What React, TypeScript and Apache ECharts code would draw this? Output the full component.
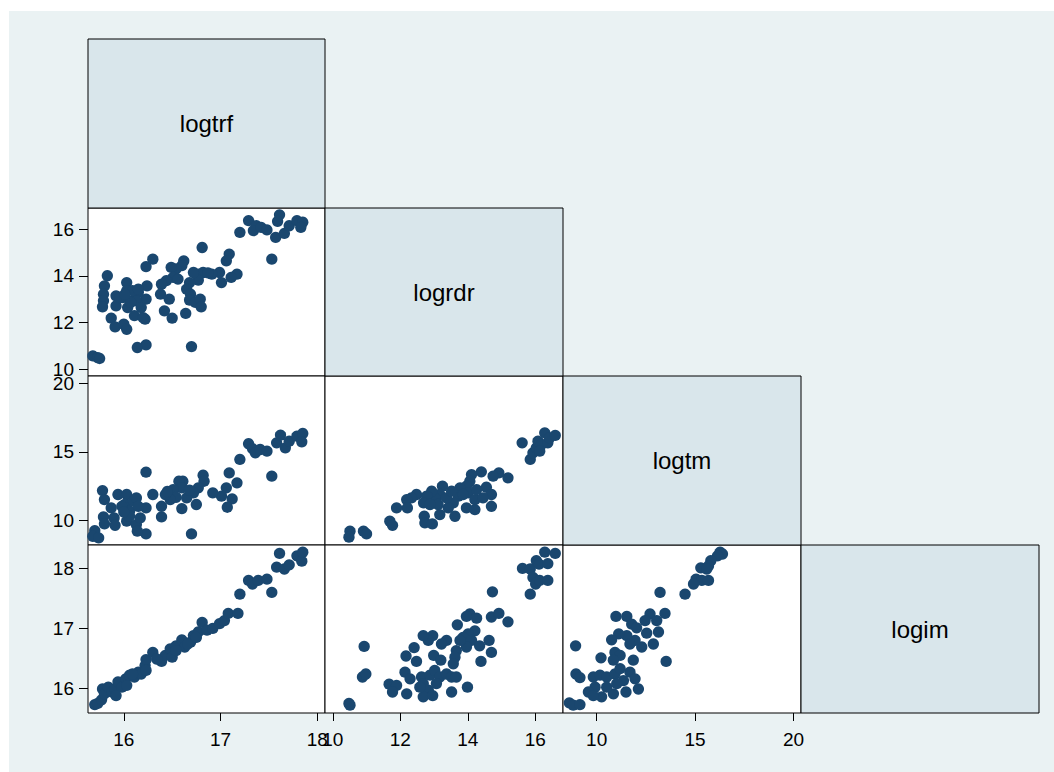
import React, { useEffect, useRef } from "react";
import * as echarts from "echarts";

// Variable names on the diagonal
const vars = ["logtrf", "logrdr", "logtm", "logim"];

// Axis extents: columns are logtrf, logrdr, logtm; rows are logrdr, logtm, logim
const colRanges = [
  [15.63, 18.08],
  [9.77, 16.82],
  [8.29, 20.38],
];
const rowRanges = [
  [9.71, 16.9],
  [8.19, 20.54],
  [15.59, 18.39],
];
const colTicks = [
  [16, 17, 18],
  [10, 12, 14, 16],
  [10, 15, 20],
];
const rowTicks = [
  [10, 12, 14, 16],
  [10, 15, 20],
  [16, 17, 18],
];

// logtrf (x) vs logrdr (y)
const trfRdr = [
  [17.2, 15.86], [17.29, 16.36], [17.37, 16.14], [17.34, 15.93], [17.42, 16.07],
  [17.48, 15.96], [17.61, 16.61], [17.59, 16.33], [17.57, 15.64], [17.66, 15.81],
  [17.71, 16.14], [17.79, 16.36], [17.85, 16.29], [17.83, 16.07], [17.53, 14.71],
  [16.81, 15.21], [17.09, 14.93], [17.06, 14.64], [17.17, 14.07], [17.11, 13.93],
  [17.01, 13.71], [16.99, 14.14], [16.91, 14.07], [16.82, 14.14], [16.77, 14.07],
  [16.77, 13.81], [16.72, 14.14], [16.62, 14.64], [16.6, 14.43], [16.54, 14.29],
  [16.49, 14.36], [16.51, 13.93], [16.44, 13.79], [16.39, 13.64], [16.38, 13.21],
  [16.47, 13.0], [16.68, 13.71], [16.65, 13.43], [16.69, 13.21], [16.68, 12.96],
  [16.74, 12.86], [16.79, 13.0], [16.8, 12.67], [16.64, 12.39], [16.42, 12.5],
  [16.5, 12.19], [16.7, 10.97], [16.23, 14.39], [16.3, 14.71], [16.24, 13.57],
  [16.23, 13.0], [16.22, 12.14], [16.23, 11.04], [16.14, 10.93], [15.83, 14.0],
  [15.8, 13.57], [15.79, 13.21], [15.79, 12.93], [15.78, 12.67], [15.92, 13.14],
  [15.92, 12.71], [15.87, 12.19], [15.91, 11.81], [16.0, 11.93], [16.03, 11.71],
  [16.03, 13.71], [16.03, 13.36], [15.99, 13.07], [16.04, 12.64], [16.09, 12.93],
  [16.15, 13.29], [16.13, 12.93], [16.11, 12.29], [16.18, 12.64], [16.2, 12.21],
  [16.07, 12.86], [16.09, 13.36], [15.96, 13.07], [15.68, 10.57], [15.73, 10.5],
  [15.75, 10.46], [16.15, 13.43], [16.87, 14.12], [16.56, 13.86], [16.01, 13.2],
];

// logtrf (x) vs logtm (y)
const trfTm = [
  [17.2, 14.44], [17.29, 15.59], [17.33, 15.24], [17.36, 14.93], [17.41, 15.17],
  [17.48, 15.05], [17.58, 15.66], [17.62, 16.22], [17.67, 15.29], [17.71, 15.78],
  [17.79, 16.15], [17.85, 16.34], [17.84, 15.73], [17.53, 13.22], [17.09, 13.46],
  [17.17, 12.73], [17.06, 12.37], [17.12, 11.56], [17.07, 10.95], [17.01, 11.76],
  [16.92, 12.0], [16.82, 13.29], [16.83, 12.85], [16.77, 12.37], [16.72, 12.0],
  [16.75, 11.15], [16.61, 12.85], [16.57, 12.85], [16.6, 12.37], [16.65, 11.63],
  [16.51, 12.24], [16.54, 11.68], [16.6, 10.85], [16.48, 11.51], [16.43, 11.88],
  [16.39, 11.02], [16.39, 10.24], [16.7, 9.0], [16.23, 13.51], [16.3, 11.88],
  [16.23, 10.9], [16.23, 9.0], [15.78, 12.17], [15.8, 11.51], [15.79, 10.24],
  [15.8, 9.73], [15.7, 9.24], [15.68, 8.83], [15.74, 8.71], [15.87, 10.9],
  [15.9, 10.17], [15.91, 9.63], [15.94, 11.88], [16.03, 11.88], [16.01, 11.15],
  [16.03, 9.93], [16.06, 10.66], [16.1, 11.39], [16.13, 11.63], [16.15, 11.02],
  [16.13, 9.68], [16.14, 9.2], [16.17, 10.17], [15.98, 11.02], [16.06, 10.29],
  [16.68, 12.2], [16.45, 12.1], [16.0, 10.6],
];

// logtrf (x) vs logim (y)
const trfIm = [
  [15.7, 15.73], [15.73, 15.75], [15.77, 15.81], [15.78, 15.99], [15.8, 15.91],
  [15.84, 16.02], [15.88, 15.94], [15.91, 15.99], [15.94, 16.11], [15.98, 16.02],
  [16.02, 16.16], [16.03, 16.05], [16.06, 16.22], [16.11, 16.19], [16.15, 16.27],
  [16.18, 16.24], [16.22, 16.38], [16.23, 16.48], [16.23, 16.3], [16.3, 16.6],
  [16.39, 16.45], [16.43, 16.55], [16.48, 16.66], [16.5, 16.52], [16.54, 16.71],
  [16.6, 16.81], [16.63, 16.69], [16.69, 16.77], [16.72, 16.88], [16.77, 16.94],
  [16.81, 17.1], [16.86, 16.97], [16.92, 17.0], [16.99, 17.08], [17.04, 17.13],
  [17.08, 17.25], [17.18, 17.25], [17.2, 17.57], [17.29, 17.8], [17.33, 17.74],
  [17.39, 17.8], [17.48, 17.82], [17.53, 17.6], [17.58, 18.02], [17.61, 18.25],
  [17.66, 17.99], [17.71, 18.06], [17.79, 18.21], [17.84, 18.12], [17.85, 18.27],
  [16.54, 16.63], [16.66, 16.74], [16.75, 16.85], [16.34, 16.49], [16.09, 16.24],
  [15.92, 15.88],
];

// logrdr (x) vs logtm (y)
const rdrTm = [
  [15.61, 15.66], [15.85, 14.44], [15.93, 14.93], [16.03, 15.29], [16.08, 15.78],
  [16.18, 15.54], [16.28, 16.39], [16.37, 15.66], [16.42, 16.02], [16.59, 16.2],
  [16.13, 15.05], [15.19, 13.1], [14.92, 13.46], [14.75, 13.22], [14.4, 13.54],
  [14.11, 13.34], [14.06, 12.85], [13.96, 12.49], [14.01, 12.0], [14.21, 11.51],
  [13.96, 10.9], [14.21, 10.78], [14.55, 12.41], [14.7, 11.88], [14.7, 11.02],
  [14.45, 11.63], [14.26, 12.24], [13.77, 12.37], [13.72, 11.76], [13.57, 11.27],
  [13.62, 10.29], [13.42, 10.9], [13.25, 12.49], [13.17, 11.88], [13.02, 11.63],
  [13.12, 11.15], [13.17, 10.41], [12.93, 12.12], [12.78, 11.76], [12.69, 11.27],
  [12.88, 11.15], [12.71, 10.29], [12.73, 9.8], [12.95, 9.73], [12.48, 11.88],
  [12.33, 11.63], [12.19, 11.51], [12.21, 10.9], [11.89, 10.9], [11.69, 9.93],
  [11.77, 9.63], [10.91, 9.2], [11.0, 9.0], [10.51, 9.2], [10.48, 8.76],
  [13.37, 11.63], [13.52, 12.12], [13.86, 11.88],
];

// logrdr (x) vs logim (y)
const rdrIm = [
  [15.62, 18.0], [15.85, 17.99], [16.03, 18.13], [16.11, 18.07], [16.28, 18.27],
  [16.37, 18.08], [16.59, 18.25], [15.93, 17.85], [16.01, 17.74], [16.13, 17.8],
  [16.37, 17.8], [15.85, 17.57], [14.73, 17.61], [14.7, 17.19], [14.92, 17.25],
  [15.19, 17.11], [14.06, 17.24], [13.96, 17.2], [14.26, 17.17], [13.69, 17.06],
  [14.21, 16.96], [14.01, 16.91], [13.86, 16.85], [14.11, 16.8], [14.35, 16.71],
  [14.63, 16.8], [14.7, 16.6], [14.39, 16.45], [13.96, 16.69], [13.77, 16.8],
  [13.66, 16.63], [13.62, 16.52], [13.57, 16.41], [13.37, 16.8], [13.22, 16.74],
  [12.96, 16.88], [12.83, 16.8], [12.68, 16.88], [12.41, 16.68], [12.17, 16.54],
  [12.48, 16.45], [12.99, 16.55], [13.2, 16.47], [12.14, 16.27], [12.29, 16.16],
  [12.63, 16.19], [12.68, 16.08], [12.88, 16.22], [13.02, 16.3], [13.17, 16.19],
  [13.37, 16.24], [13.52, 16.19], [13.66, 16.19], [13.07, 16.08], [12.83, 15.97],
  [12.68, 15.86], [12.96, 15.88], [13.52, 15.94], [13.99, 16.02], [12.19, 15.91],
  [11.67, 16.07], [11.89, 16.05], [11.77, 15.94], [10.93, 16.7], [10.88, 16.19],
  [10.98, 16.24], [10.48, 15.75], [10.51, 15.72], [12.58, 16.02],
];

// logtm (x) vs logim (y)
const tmIm = [
  [16.27, 18.27], [16.39, 18.24], [16.14, 18.21], [15.8, 18.13], [15.68, 18.04],
  [15.29, 18.01], [15.59, 17.99], [15.05, 17.82], [15.34, 17.8], [15.68, 17.8],
  [14.92, 17.74], [14.49, 17.57], [13.22, 17.6], [13.47, 17.25], [12.71, 17.24],
  [13.05, 17.13], [12.46, 17.13], [10.98, 17.2], [11.53, 17.2], [11.78, 17.07],
  [12.03, 17.01], [12.54, 16.92], [13.14, 16.94], [12.88, 16.74], [12.29, 16.69],
  [11.95, 16.8], [11.53, 16.88], [11.12, 16.91], [10.76, 16.81], [10.93, 16.6],
  [11.19, 16.55], [10.85, 16.47], [11.86, 16.47], [13.53, 16.45], [10.22, 16.51],
  [11.69, 16.74], [8.93, 16.71], [8.95, 16.24], [9.15, 16.18], [9.83, 16.19],
  [10.17, 16.22], [10.51, 16.19], [10.93, 16.24], [11.36, 16.13], [11.69, 16.27],
  [11.95, 16.16], [11.19, 16.33], [12.12, 15.99], [11.49, 15.94], [10.85, 15.91],
  [10.25, 15.86], [9.92, 16.02], [9.58, 15.94], [9.83, 15.88], [10.51, 16.02],
  [11.02, 16.08], [8.61, 15.76], [8.81, 15.72], [9.15, 15.73],
];

// Lower-triangle panels: row index (0 = top), column index, points
const panels = [
  { row: 1, col: 0, data: trfRdr },
  { row: 2, col: 0, data: trfTm },
  { row: 2, col: 1, data: rdrTm },
  { row: 3, col: 0, data: trfIm },
  { row: 3, col: 1, data: rdrIm },
  { row: 3, col: 2, data: tmIm },
];

// Cell edges of the matrix
const cellX = [88, 325, 563, 801, 1039];
const cellY = [39, 208, 376, 545, 713];

const FONT = "'Liberation Sans', Arial, Helvetica, sans-serif";
const MARKER = "#1a476f";

export default function App() {
  const ref = useRef<HTMLDivElement>(null);

  useEffect(() => {
    if (!ref.current) return;
    const chart = echarts.init(ref.current, undefined, { renderer: "svg" });

    const grid: any[] = [];
    const xAxis: any[] = [];
    const yAxis: any[] = [];
    const series: any[] = [];

    panels.forEach((p, i) => {
      grid.push({
        left: cellX[p.col],
        top: cellY[p.row],
        width: cellX[p.col + 1] - cellX[p.col],
        height: cellY[p.row + 1] - cellY[p.row],
        show: true,
        backgroundColor: "#ffffff",
        borderColor: "#000000",
        borderWidth: 1,
        containLabel: false,
      });
      const showX = p.row === 3;
      const showY = p.col === 0;
      xAxis.push({
        type: "value",
        gridIndex: i,
        min: colRanges[p.col][0],
        max: colRanges[p.col][1],
        axisLine: { show: false },
        splitLine: { show: false },
        axisTick: {
          show: showX,
          length: 8,
          lineStyle: { color: "#000", width: 1 },
          customValues: colTicks[p.col],
        },
        axisLabel: {
          show: showX,
          customValues: colTicks[p.col],
          margin: 17,
          fontSize: 19,
          fontFamily: FONT,
          color: "#000",
        },
      });
      yAxis.push({
        type: "value",
        gridIndex: i,
        min: rowRanges[p.row - 1][0],
        max: rowRanges[p.row - 1][1],
        axisLine: { show: false },
        splitLine: { show: false },
        axisTick: {
          show: showY,
          length: 9,
          lineStyle: { color: "#000", width: 1 },
          customValues: rowTicks[p.row - 1],
        },
        axisLabel: {
          show: showY,
          customValues: rowTicks[p.row - 1],
          margin: 14,
          fontSize: 19,
          fontFamily: FONT,
          color: "#000",
        },
      });
      series.push({
        type: "scatter",
        xAxisIndex: i,
        yAxisIndex: i,
        data: p.data,
        symbol: "circle",
        symbolSize: 11.3,
        itemStyle: { color: MARKER, opacity: 1 },
        emphasis: { disabled: true },
      });
    });

    // White page margin around the graph region, then the diagonal name boxes
    const graphic: any[] = [
      { type: "rect", shape: { x: 0, y: 0, width: 1054, height: 11 }, style: { fill: "#ffffff" }, silent: true },
      { type: "rect", shape: { x: 0, y: 0, width: 9, height: 772 }, style: { fill: "#ffffff" }, silent: true },
    ];
    vars.forEach((name, k) => {
      const x0 = cellX[k];
      const y0 = cellY[k];
      const w = cellX[k + 1] - x0;
      const h = cellY[k + 1] - y0;
      graphic.push({
        type: "rect",
        shape: { x: x0, y: y0, width: w, height: h },
        style: { fill: "#d9e6eb", stroke: "#000", lineWidth: 1 },
        silent: true,
      });
      graphic.push({
        type: "text",
        x: x0 + w / 2,
        y: y0 + h / 2,
        style: {
          text: name,
          fontSize: 24,
          fontFamily: FONT,
          fill: "#000",
          align: "center",
          verticalAlign: "middle",
        },
        silent: true,
      });
    });

    chart.setOption({
      animation: false,
      backgroundColor: "#eaf2f3",
      grid,
      xAxis,
      yAxis,
      series,
      graphic,
    });

    return () => chart.dispose();
  }, []);

  return (
    <div
      ref={ref}
      style={{ position: "fixed", left: 0, top: 0, width: 1054, height: 772 }}
    />
  );
}
